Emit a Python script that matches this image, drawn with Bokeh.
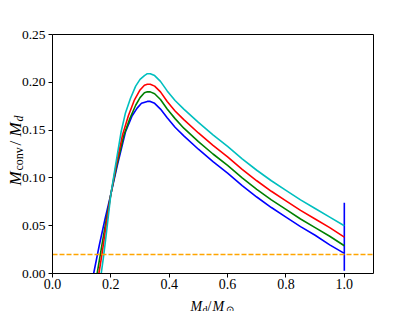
import math
from bokeh.plotting import figure
from bokeh.models import FixedTicker, Range1d, LinearAxis
from bokeh.core.properties import value
from bokeh.embed import file_html
from bokeh.resources import INLINE

# ---- data ----
x_c = [0.167, 0.175, 0.185, 0.2, 0.216, 0.235, 0.25, 0.267, 0.285, 0.3, 0.315, 0.325, 0.335,
       0.35, 0.37, 0.393, 0.42, 0.45, 0.5, 0.55, 0.6, 0.65, 0.7, 0.75, 0.8, 0.85, 0.9, 0.95, 1.0]
y_c = [0.0, 0.018, 0.043, 0.083, 0.113, 0.148, 0.168, 0.183, 0.196, 0.203, 0.207, 0.209, 0.209,
       0.207, 0.201, 0.191, 0.181, 0.172, 0.158, 0.145, 0.133, 0.120, 0.108, 0.097, 0.087, 0.077, 0.068, 0.059, 0.050]

x_r = [0.159, 0.17, 0.185, 0.2, 0.218, 0.24, 0.26, 0.28, 0.3, 0.315, 0.325, 0.335,
       0.35, 0.37, 0.393, 0.42, 0.45, 0.5, 0.55, 0.6, 0.65, 0.7, 0.75, 0.8, 0.85, 0.9, 0.95, 1.0]
y_r = [0.0, 0.021, 0.053, 0.083, 0.113, 0.145, 0.165, 0.181, 0.192, 0.197, 0.198, 0.198,
       0.196, 0.190, 0.180, 0.170, 0.161, 0.147, 0.134, 0.122, 0.109, 0.097, 0.086, 0.076, 0.066, 0.057, 0.048, 0.038]

x_g = [0.153, 0.17, 0.185, 0.2, 0.22, 0.245, 0.265, 0.285, 0.3, 0.315, 0.325, 0.335,
       0.35, 0.37, 0.393, 0.42, 0.45, 0.5, 0.55, 0.6, 0.65, 0.7, 0.75, 0.8, 0.85, 0.9, 0.95, 1.0]
y_g = [0.0, 0.031, 0.058, 0.083, 0.113, 0.145, 0.162, 0.176, 0.184, 0.189, 0.190, 0.190,
       0.188, 0.182, 0.172, 0.162, 0.152, 0.138, 0.125, 0.113, 0.100, 0.088, 0.077, 0.067, 0.057, 0.048, 0.039, 0.029]

x_b = [0.141, 0.16, 0.18, 0.2, 0.222, 0.25, 0.273, 0.29, 0.305, 0.325, 0.335,
       0.35, 0.37, 0.393, 0.42, 0.45, 0.5, 0.55, 0.6, 0.65, 0.7, 0.75, 0.8, 0.85, 0.9, 0.95, 1.0, 1.0, 1.0]
y_b = [0.0, 0.029, 0.057, 0.083, 0.113, 0.148, 0.165, 0.173, 0.178, 0.180, 0.180,
       0.178, 0.172, 0.163, 0.153, 0.144, 0.130, 0.117, 0.105, 0.092, 0.080, 0.069, 0.059, 0.049, 0.040, 0.030, 0.021, 0.074, 0.003]

threshold = 0.02
x_lim = (0.0, 1.1)
y_lim = (0.0, 0.25)
x_ticks = [0.0, 0.2, 0.4, 0.6, 0.8, 1.0]
y_ticks = [0.00, 0.05, 0.10, 0.15, 0.20, 0.25]

SERIF = "Liberation Serif"
W, H = 415, 311
# axes box in page pixels
BL, BR, BT, BB = 52, 373, 34, 273

kx = (BR - BL) / (x_lim[1] - x_lim[0])
ky = (BB - BT) / (y_lim[1] - y_lim[0])
xr = Range1d(x_lim[0] - BL / kx, x_lim[1] + (W - BR) / kx)
yr = Range1d(y_lim[0] - (H - BB) / ky, y_lim[1] + BT / ky)

p = figure(width=W, height=H, output_backend="svg", toolbar_location=None,
           x_range=xr, y_range=yr,
           min_border_left=0, min_border_right=0, min_border_top=0, min_border_bottom=0)
p.grid.visible = False
p.outline_line_color = None
p.background_fill_color = "white"
p.border_fill_color = "white"
p.extra_x_ranges = {"px": Range1d(0, W)}
p.extra_y_ranges = {"px": Range1d(0, H)}

def style_axis(ax, ticks, fmt, size, standoff):
    ax.ticker = FixedTicker(ticks=ticks)
    ax.major_label_overrides = {t: fmt.format(t) for t in ticks}
    ax.major_tick_out = 4
    ax.major_tick_in = 0
    ax.minor_tick_out = 0
    ax.minor_tick_in = 0
    ax.axis_line_color = "black"
    ax.axis_line_width = 1
    ax.major_tick_line_color = "black"
    ax.major_label_text_font = SERIF
    ax.major_label_text_font_size = size
    ax.major_label_text_color = "black"
    ax.major_label_standoff = standoff

xa = p.xaxis[0]
ya = p.yaxis[0]
xa.fixed_location = y_lim[0]
xa.bounds = x_lim
ya.fixed_location = x_lim[0]
ya.bounds = y_lim
style_axis(xa, x_ticks, "{:.1f}", "14px", 1)
style_axis(ya, y_ticks, "{:.2f}", "13.5px", 3)

# top and right spines
for loc, fixed, bounds in [("above", y_lim[1], x_lim), ("right", x_lim[1], y_lim)]:
    sp = LinearAxis(fixed_location=fixed, bounds=bounds, ticker=FixedTicker(ticks=[]),
                    axis_line_color="black", axis_line_width=1,
                    major_tick_out=0, major_tick_in=0, minor_tick_out=0, minor_tick_in=0,
                    major_label_text_alpha=0)
    p.add_layout(sp, loc)

for xs, ys, col in [(x_b, y_b, "#0000ff"), (x_g, y_g, "#008000"),
                    (x_r, y_r, "#ff0000"), (x_c, y_c, "#00bfbf")]:
    p.line(xs, ys, line_color=col, line_width=1.6)

p.segment(x0=[x_lim[0]], y0=[threshold], x1=[x_lim[1]], y1=[threshold],
          line_color="orange", line_width=1.5, line_dash="5 2")

def txt(t, sx, sy, size, style, angle=0.0):
    p.text(x=[sx], y=[H - sy], text=[t], angle=angle,
           x_range_name="px", y_range_name="px",
           text_font=value(SERIF), text_font_size=value(size),
           text_font_style=value(style), text_align=value("left"),
           text_baseline=value("alphabetic"), text_color="black")

# x label: M_d / M_sun
txt("M", 190, 306, "14px", "italic")
txt("d", 202, 308.5, "10px", "normal")
txt("/", 207, 306, "14px", "normal")
txt("M", 212, 306, "14px", "italic")
txt("⊙", 225, 308.5, "10px", "normal")

# y label: M_conv / M_d (rotated)
a = math.pi / 2
txt("M", 15, 185, "17px", "italic", a)
txt("conv", 18, 170, "12px", "normal", a)
txt("/", 15, 145, "17px", "normal", a)
txt("M", 15, 136, "17px", "italic", a)
txt("d", 18, 121, "12px", "italic", a)

open("out.html", "w").write(file_html(p, INLINE))
